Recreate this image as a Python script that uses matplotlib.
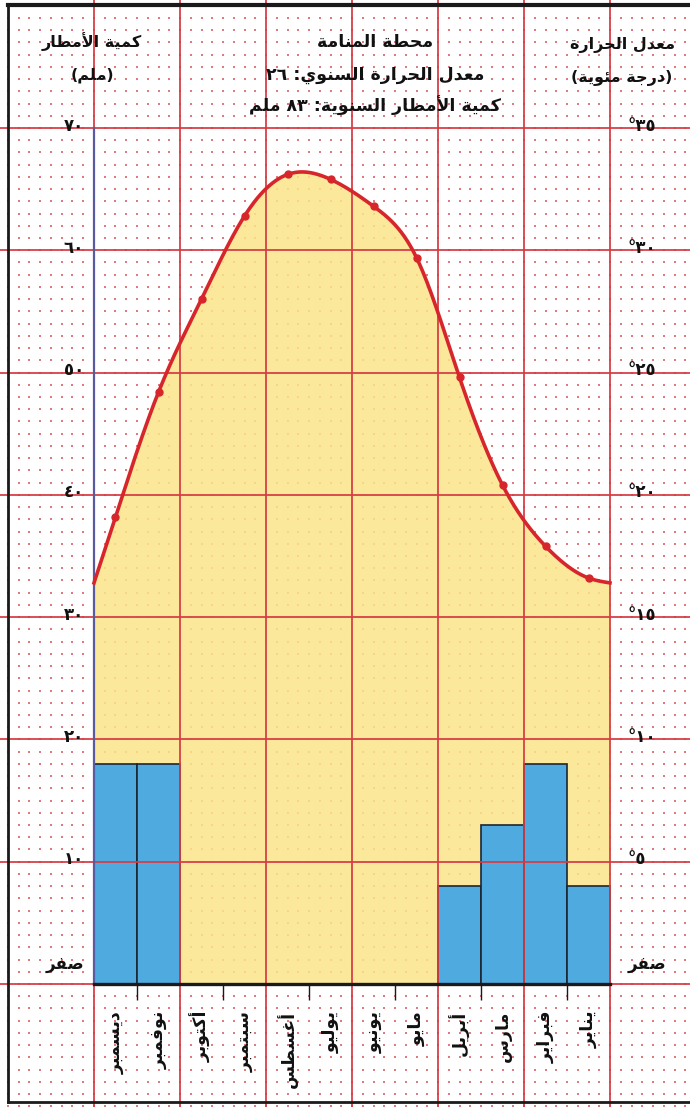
import numpy as np
import matplotlib.pyplot as plt
from matplotlib.lines import Line2D

# ---- data (months run right-to-left: Jan is on the right) ----
months = ['ديسمبر', 'نوفمبر', 'أكتوبر', 'سبتمبر', 'أغسطس', 'يوليو',
          'يونيو', 'مايو', 'أبريل', 'مارس', 'فبراير', 'يناير']
rain_mm = [18, 18, 0, 0, 0, 0, 0, 0, 8, 13, 18, 8]
temp_c = [19.1, 24.2, 28.0, 31.4, 33.1, 32.9, 31.8, 29.7, 24.8, 20.4, 17.9, 16.6]
temp_edges = [16.4, 16.4]   # curve value where it meets the left / right border

rain_ticks = [0, 10, 20, 30, 40, 50, 60, 70]
rain_labels = ['صفر', '١٠', '٢٠', '٣٠', '٤٠', '٥٠', '٦٠', '٧٠']
temp_labels = ['صفر', '°٥', '°١٠', '°١٥', '°٢٠', '°٢٥', '°٣٠', '°٣٥']

title_lines = ['محطة المنامة', 'معدل الحرارة السنوي: ٢٦', 'كمية الأمطار السنوية: ٨٣ ملم']
left_head = ['كمية الأمطار', '(ملم)']
right_head = ['معدل الحرارة', '(درجة مئوية)']

# ---- tiny arabic shaper (matplotlib has no shaping / bidi) ----
_seq = [('ء', 1), ('آ', 2), ('أ', 2), ('ؤ', 2), ('إ', 2), ('ئ', 4), ('ا', 2), ('ب', 4),
        ('ة', 2), ('ت', 4), ('ث', 4), ('ج', 4), ('ح', 4), ('خ', 4), ('د', 2), ('ذ', 2),
        ('ر', 2), ('ز', 2), ('س', 4), ('ش', 4), ('ص', 4), ('ض', 4), ('ط', 4), ('ظ', 4),
        ('ع', 4), ('غ', 4), ('ف', 4), ('ق', 4), ('ك', 4), ('ل', 4), ('م', 4), ('ن', 4),
        ('ه', 4), ('و', 2), ('ى', 2), ('ي', 4)]
FORMS = {}
_c = 0xFE80
for ch, k in _seq:
    FORMS[ch] = tuple(range(_c, _c + k))
    _c += k
LAM_ALEF = {'آ': 0xFEF5, 'أ': 0xFEF7, 'إ': 0xFEF9, 'ا': 0xFEFB}


def shape_word(w):
    out = []
    i = 0
    while i < len(w):
        ch = w[i]
        if ch not in FORMS:
            out.append(ch)
            i += 1
            continue
        prev = w[i - 1] if i > 0 else None
        jp = prev is not None and len(FORMS.get(prev, ())) == 4
        if ch == 'ل' and i + 1 < len(w) and w[i + 1] in LAM_ALEF:
            out.append(chr(LAM_ALEF[w[i + 1]] + (1 if jp else 0)))
            i += 2
            continue
        f = FORMS[ch]
        nxt = w[i + 1] if i + 1 < len(w) else None
        jn = len(f) == 4 and nxt in FORMS
        if len(f) == 1:
            idx = 0
        elif jp and jn:
            idx = 3
        elif jn:
            idx = 2
        elif jp:
            idx = 1
        else:
            idx = 0
        out.append(chr(f[idx]))
        i += 1
    return ''.join(out)


def ar(text):
    # logical arabic -> visual left-to-right string
    wrap = text.startswith('(') and text.endswith(')')
    if wrap:
        text = text[1:-1]
    toks = []
    for t in text.split(' '):
        trail = ''
        while t and t[-1] == ':':
            trail += t[-1]
            t = t[:-1]
        if t and t[0] in FORMS:
            t = shape_word(t)[::-1]
        toks.append(trail + t)
    s = ' '.join(toks[::-1])
    return '(' + s + ')' if wrap else s


# ---- figure: axes covers the whole sheet of graph paper ----
W, H = 690, 1107
fig = plt.figure(figsize=(W / 100, H / 100), dpi=100)
ax = fig.add_axes([0, 0, 1, 1])
x0_px, mw = 94, 43.0        # left edge of the plot, month width (px)
y0_px, mm = 984, 12.229     # zero line, px per mm
ax.set_xlim(-x0_px / mw, (W - x0_px) / mw)
ax.set_ylim(-(H - y0_px) / mm, y0_px / mm)
ax.axis('off')

red = '#d63c44'
# dotted graph paper
gx, gy = np.meshgrid(np.arange(-2.25, 14.1, 0.25), np.arange(-10, 81, 1))
ax.scatter(gx.ravel(), gy.ravel(), s=2.4, c='#e07a7e', marker='s', lw=0, zorder=1)

# yellow area under the temperature curve
mx = np.arange(len(months)) + 0.5
xs = np.concatenate([[0], mx, [len(months)]])
ys = 2 * np.array([temp_edges[0]] + temp_c + [temp_edges[1]])   # 1 degC = 2 mm


def natural_spline(x, y, n=500):
    h = np.diff(x)
    m = len(x)
    A = np.zeros((m, m))
    b = np.zeros(m)
    A[0, 0] = A[-1, -1] = 1
    for i in range(1, m - 1):
        A[i, i - 1], A[i, i], A[i, i + 1] = h[i - 1], 2 * (h[i - 1] + h[i]), h[i]
        b[i] = 3 * ((y[i + 1] - y[i]) / h[i] - (y[i] - y[i - 1]) / h[i - 1])
    c = np.linalg.solve(A, b)
    bb = (y[1:] - y[:-1]) / h - h * (2 * c[:-1] + c[1:]) / 3
    d = (c[1:] - c[:-1]) / (3 * h)
    xx = np.linspace(x[0], x[-1], n)
    k = np.clip(np.searchsorted(x, xx) - 1, 0, m - 2)
    t = xx - x[k]
    return xx, y[k] + bb[k] * t + c[k] * t ** 2 + d[k] * t ** 3


xx, yy = natural_spline(xs, ys)
ax.fill_between(xx, 0, yy, color='#fbe58a', alpha=0.85, lw=0, zorder=2)

# rainfall bars
ax.bar(mx, rain_mm, width=1, color='#4faae0', edgecolor='#1c2633', lw=1.2, zorder=3)

# major red grid on top of the colour
for v in rain_ticks:
    ax.axhline(v, color=red, lw=1.4, zorder=4, alpha=0.9)
for v in range(0, len(months) + 1, 2):
    ax.axvline(v, color=red, lw=1.4, zorder=4, alpha=0.9)
ax.plot([0, 0], [0, 70], color='#5a5aa0', lw=1.6, zorder=5)
ax.plot([0, len(months)], [0, 0], color='#1a1a1a', lw=2.4, zorder=6)
ax.vlines(range(1, len(months), 2), -1.3, 0, colors='#1a1a1a', lw=1.0, zorder=6)

# temperature curve
ax.plot(xx, yy, color='#d7262b', lw=2.6, zorder=7)
ax.plot(mx, 2 * np.array(temp_c), 'o', color='#d7262b', ms=5, zorder=8)

# axis labels
fnt = dict(family='DejaVu Sans', weight='bold', color='#111111')
for v, lab in zip(rain_ticks, rain_labels):
    ax.text(-0.23, v + (0.9 if v == 0 else 0.2), ar(lab), ha='right',
            va='bottom' if v == 0 else 'center', fontsize=12, **fnt, zorder=9)
for v, lab in zip(rain_ticks, temp_labels):
    ax.text(12.4, v + (0.9 if v == 0 else 0.2), ar(lab), ha='left',
            va='bottom' if v == 0 else 'center', fontsize=12, **fnt, zorder=9)

for i, m in enumerate(months):
    ax.text(mx[i], -2.2, ar(m), rotation=90, ha='center', va='top',
            fontsize=12.5, **fnt, zorder=9)


# headers
def px(x, y):
    return x / W, 1 - y / H


for s, y in zip(title_lines, [42, 75, 106]):
    fig.text(*px(375, y), ar(s), ha='center', va='center', fontsize=12.5, **fnt)
for s, y in zip(left_head, [42, 75]):
    fig.text(*px(92, y), ar(s), ha='center', va='center', fontsize=11.5, **fnt)
for s, y in zip(right_head, [45, 78]):
    fig.text(*px(622, y), ar(s), ha='center', va='center', fontsize=11.5, **fnt)

# paper frame
for (xa, xb, ya, yb, lw) in [(8, 8, 5, 1102, 2.0), (8, 690, 5, 5, 3.0), (8, 690, 1102, 1102, 2.0)]:
    fig.add_artist(Line2D([xa / W, xb / W], [1 - ya / H, 1 - yb / H],
                          transform=fig.transFigure, color='#1a1a1a', lw=lw))

fig.savefig('out.png', dpi=100, facecolor='white')
